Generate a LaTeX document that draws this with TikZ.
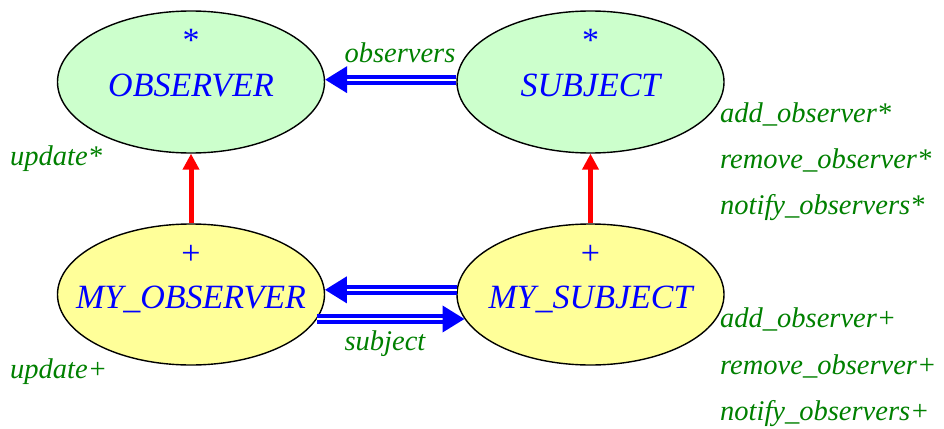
\documentclass[tikz,border=0pt]{standalone}
\usepackage{fontspec}
\setmainfont{Liberation Serif}
\usetikzlibrary{shapes.geometric,arrows.meta,positioning}
\definecolor{defgreen}{RGB}{204,255,204}
\definecolor{effyellow}{RGB}{255,255,153}
\definecolor{featgreen}{RGB}{0,128,0}
\begin{document}
\begin{tikzpicture}[x=1pt, y=-1pt,
    cls/.style = {shape=ellipse, draw=black, line width=1.4pt,
      minimum width=267pt, minimum height=142pt, inner sep=0pt},
    deferred/.style = {cls, fill=defgreen},
    effective/.style = {cls, fill=effyellow},
    clsname/.style = {text=blue, anchor=base, inner sep=0pt,
      font=\fontsize{34}{40}\selectfont\itshape},
    tag/.style = {text=blue, anchor=base, inner sep=0pt,
      font=\fontsize{34}{40}\selectfont},
    feature/.style = {text=featgreen, anchor=base west, inner sep=0pt,
      font=\fontsize{28.5}{34}\selectfont\itshape},
    inherit/.style = {draw=red, line width=5pt,
      -{Triangle[length=16pt,width=16pt]}},
    client/.style = {draw=blue, double=white, double distance=2pt,
      line width=4pt, -{Triangle[length=22pt,width=26pt]}}]
    \useasboundingbox (0,0) rectangle (944,428);
    % classes
    \node[deferred] (obs) at (191,82) {};
    \node[deferred] (subj) at (590.5,82) {};
    \node[effective, minimum height=141pt] (myobs) at (191,294.5) {};
    \node[effective, minimum height=141pt] (mysubj) at (590.5,294.5) {};
    \node[clsname] (obsname) at ([yshift=-14pt]obs.center) {OBSERVER};
    \node[clsname] (subjname) at ([yshift=-14pt]subj.center) {SUBJECT};
    \node[clsname] (myobsname) at ([yshift=-14pt]myobs.center) {MY\_OBSERVER};
    \node[clsname] (mysubjname) at ([yshift=-14pt]mysubj.center) {MY\_SUBJECT};
    \node[tag] (obstag) at ([yshift=30pt]obs.center) {*};
    \node[tag] (subjtag) at ([yshift=30pt]subj.center) {*};
    \node[tag] (myobstag) at ([yshift=30pt]myobs.center) {+};
    \node[tag] (mysubjtag) at ([yshift=30pt]mysubj.center) {+};
    % inheritance
    \draw[inherit] (myobs.north) -- (obs.south);
    \draw[inherit] (mysubj.north) -- (subj.south);
    % client links
    \draw[client] (subj.179) -- (obs.1);
    \draw[client] (mysubj.178) -- (myobs.2);
    \draw[client] (myobs.-11) -- (mysubj.191);
    \node[feature, anchor=base] (observers) at (400,63) {observers};
    \node[feature, anchor=base] (subject) at (385,350) {subject};
    % features
    \node[feature] (upd1) at (10,165) {update*};
    \node[feature] (upd2) at (10,378) {update+};
    \node[feature] (add1) at (720,122) {add\_observer*};
    \node[feature] (rem1) at (720,168) {remove\_observer*};
    \node[feature] (not1) at (720,214) {notify\_observers*};
    \node[feature] (add2) at (720,327) {add\_observer+};
    \node[feature] (rem2) at (720,374) {remove\_observer+};
    \node[feature] (not2) at (720,420) {notify\_observers+};
\end{tikzpicture}
\end{document}
